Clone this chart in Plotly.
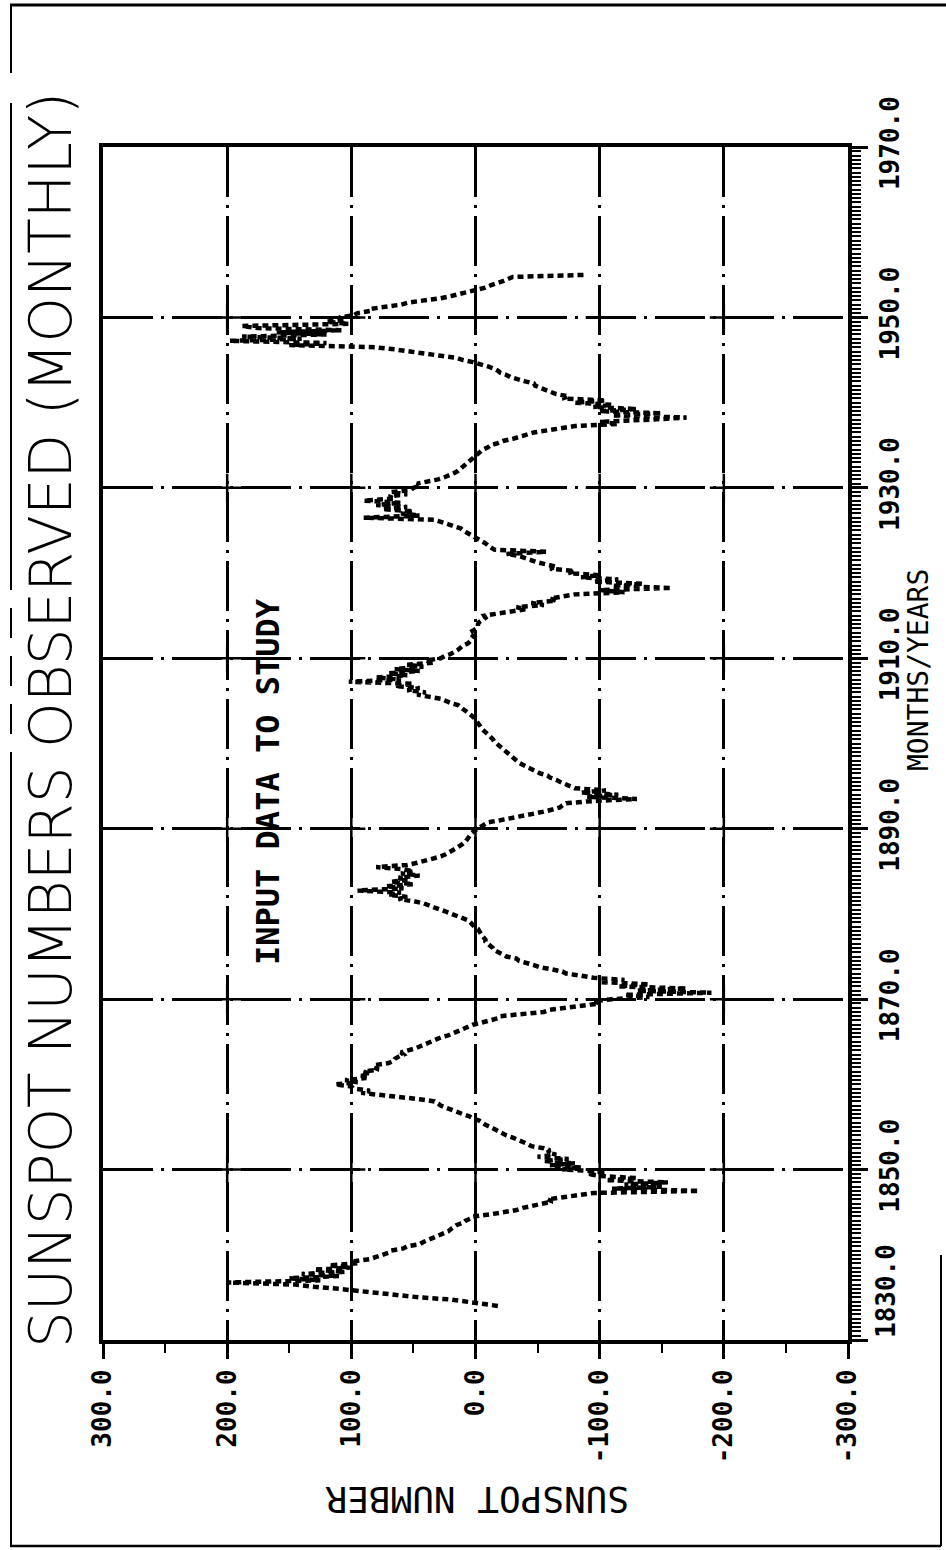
import plotly.graph_objects as go

# Monthly sunspot record sampled quarterly, signed by cycle (alternate cycles negative)
cycle_start = [1834.0, 1844.75, 1856.25, 1867.25, 1878.5, 1890.0,
               1903.0, 1912.5, 1924.25, 1934.0, 1944.75]

cycle_08 = [-18, -5, 6, 20,
            45, 60, 75, 92,
            110, 130, 145, 200,
            125, 150, 110, 140,
            105, 130, 100, 118,
            95, 98, 85, 80,
            75, 70, 68, 58,
            55, 45, 42, 38,
            32, 30, 25, 22,
            20, 18, 15, 10,
            8, 4, 2]

cycle_09 = [-12,
            -25, -33, -38, -47,
            -55, -62, -58, -72,
            -80, -95, -180, -110,
            -150, -120, -155, -105,
            -130, -100, -90, -105,
            -70, -85, -60, -80,
            -55, -75, -50, -65,
            -58, -60, -55, -45,
            -42, -38, -36, -30,
            -25, -22, -18, -15,
            -12, -8, -6, -3,
            2]

cycle_10 = [5, 10, 15,
            20, 25, 28, 30,
            33, 45, 60, 75,
            92, 85, 98, 100,
            113, 95, 105, 88,
            92, 85, 90, 78,
            82, 81, 70, 66,
            65, 62, 58, 60,
            52, 48, 44, 40,
            36, 33, 28, 22,
            18, 14, 12, 6,
            2]

cycle_11 = [-5, -12, -18,
            -20, -35, -55, -60,
            -72, -85, -100, -95,
            -110, -140, -120, -190,
            -130, -170, -115, -140,
            -100, -120, -95, -85,
            -73, -70, -58, -52,
            -47, -40, -35, -33,
            -25, -22, -18, -15,
            -14, -12, -10, -8,
            -8, -6, -5, -4,
            -3, -2]

cycle_12 = [1, 2,
            4, 6, 10, 15,
            20, 24, 28, 33,
            38, 42, 50, 62,
            55, 70, 60, 95,
            58, 72, 50, 68,
            55, 62, 45, 60,
            50, 58, 80, 55,
            47, 40, 35, 28,
            24, 20, 18, 15,
            12, 10, 8, 7,
            5, 4, 3, 1]

cycle_13 = [-2, -5, -8, -10,
            -20, -30, -40, -48,
            -55, -62, -68, -70,
            -73, -95, -130, -90,
            -115, -85, -105, -80,
            -75, -72, -68, -65,
            -60, -58, -52, -48,
            -45, -40, -38, -35,
            -33, -31, -28, -26,
            -24, -22, -20, -18,
            -16, -15, -14, -12,
            -10, -8, -6, -5,
            -4, -3, -2, -1]

cycle_14 = [1, 3, 5, 8,
            10, 12, 14, 20,
            25, 28, 38, 47,
            40, 55, 45, 65,
            50, 102, 60, 80,
            55, 70, 45, 65,
            42, 55, 33, 40,
            28, 25, 20, 16,
            14, 12, 10, 6,
            4, 2]

cycle_15 = [1, 3,
            5, 2, -1, -2,
            -2, -3, -5, -8,
            -7, -20, -33, -40,
            -33, -55, -45, -65,
            -60, -73, -80, -120,
            -100, -158, -110, -135,
            -95, -115, -85, -100,
            -75, -80, -60, -65,
            -55, -50, -45, -40,
            -35, -25, -57, -15,
            -12, -10, -8, -5,
            -2]

cycle_16 = [2, 5, 8,
            10, 12, 18, 22,
            28, 33, 90, 45,
            60, 50, 75, 55,
            80, 60, 90, 65,
            70, 55, 68, 52,
            50, 45, 47, 38,
            30, 25, 20, 17,
            14, 12, 10, 8,
            6, 5, 3, 1]

cycle_17 = [-2, -4, -6, -10,
            -12, -18, -22, -30,
            -36, -42, -47, -58,
            -68, -80, -115, -100,
            -140, -170, -110, -150,
            -100, -130, -95, -110,
            -80, -105, -70, -75,
            -65, -60, -55, -52,
            -48, -47, -40, -33,
            -28, -25, -20, -18,
            -15, -10, -5]

cycle_18 = [2,
            10, 15, 28, 40,
            47, 65, 81, 150,
            120, 198, 140, 188,
            120, 160, 108, 175,
            188, 102, 120, 105,
            110, 98, 95, 85,
            85, 70, 60, 54,
            40, 28, 20, 12,
            6, -2, -8, -12,
            -18, -22, -26, -30,
            -90]

cycles = [cycle_08, cycle_09, cycle_10, cycle_11, cycle_12, cycle_13,
          cycle_14, cycle_15, cycle_16, cycle_17, cycle_18]

spot_ticks = [300, 200, 100, 0, -100, -200, -300]
spot_labels = ["300.0", "200.0", "100.0", "0.0", "-100.0", "-200.0", "-300.0"]
spot_minor = [250, 150, 50, -50, -150, -250]
year_ticks = [1830, 1850, 1870, 1890, 1910, 1930, 1950, 1970]
year_labels = ["", "1850.0", "1870.0", "1890.0", "1910.0", "1930.0", "1950.0", "1970.0"]
grid_spots = [200, 100, 0, -100, -200]
grid_years = [1850, 1870, 1890, 1910, 1930, 1950]

years, spots = [], []
for start, vals in zip(cycle_start, cycles):
    for i, v in enumerate(vals):
        years.append(start + 0.25 * i)
        spots.append(v)

W, H = 946, 1550
L, R, T, B = 103, 98, 147, 210


def px(x):
    return (x - L) / (W - L - R)


def py(y):
    return (H - B - y) / (H - T - B)


MONO = "DejaVu Sans Mono"
fig = go.Figure()

fig.add_trace(go.Scatter(
    x=spots, y=years, mode="lines",
    line=dict(color="black", width=4.5, dash="6px,4px"),
    hoverinfo="skip",
))

# crosses where the grid lines meet
fig.add_trace(go.Scatter(
    x=[s for s in grid_spots for _ in grid_years],
    y=[yr for _ in grid_spots for yr in grid_years],
    mode="markers",
    marker=dict(symbol="cross-thin", size=20, line=dict(color="black", width=2.5)),
    hoverinfo="skip",
))

fig.update_layout(
    width=W, height=H,
    margin=dict(l=L, r=R, t=T, b=B, pad=0),
    paper_bgcolor="white", plot_bgcolor="white",
    showlegend=False,
)

fig.update_xaxes(
    range=[300, -300], tickmode="array", tickvals=spot_ticks, ticktext=spot_labels,
    tickangle=-90, ticks="outside", ticklen=15, tickwidth=2.5, tickcolor="black",
    tickfont=dict(family=MONO, size=26, color="black", weight="bold"),
    showline=True, linewidth=4, linecolor="black", mirror=True,
    showgrid=True, gridcolor="black", gridwidth=2.5, griddash="50px,8px,3px,8px",
    zeroline=False,
    minor=dict(tickvals=spot_minor, ticks="outside", ticklen=9, tickwidth=2,
               tickcolor="black", showgrid=False),
)

fig.update_yaxes(
    range=[1830, 1970], side="right", tickmode="array", tickvals=year_ticks,
    ticktext=year_labels, tickangle=-90, ticks="outside", ticklen=16, tickwidth=2.5,
    tickcolor="black",
    tickfont=dict(family=MONO, size=26, color="black", weight="bold"),
    showline=True, linewidth=3.5, linecolor="black", mirror=True,
    showgrid=True, gridcolor="black", gridwidth=2.5, griddash="50px,8px,3px,8px",
    zeroline=False,
    minor=dict(tick0=1830, dtick=0.5, ticks="outside", ticklen=9, tickwidth=1.5,
               tickcolor="black", showgrid=False),
)

annotations = [
    dict(text="SUNSPOT NUMBERS OBSERVED (MONTHLY)", xref="paper", yref="paper",
         x=px(51), y=py(720), xanchor="center", yanchor="middle",
         textangle=-90, showarrow=False,
         font=dict(family="DejaVu Sans", size=58, color="black", weight=200)),
    dict(text="MONTHS/YEARS", xref="paper", yref="paper",
         x=px(918), y=py(670), xanchor="center", yanchor="middle",
         textangle=-90, showarrow=False,
         font=dict(family=MONO, size=28, color="black")),
    dict(text="SUNSPOT NUMBER", xref="paper", yref="paper",
         x=px(477), y=py(1500), xanchor="center", yanchor="middle",
         textangle=180, showarrow=False,
         font=dict(family=MONO, size=36, color="black")),
    dict(text="INPUT DATA TO STUDY", xref="x", yref="y",
         x=167, y=1895.5, xanchor="center", yanchor="middle",
         textangle=-90, showarrow=False,
         font=dict(family=MONO, size=32, color="black", weight="bold")),
    dict(text="1830.0", xref="paper", yref="y",
         x=px(886), y=1830, xanchor="center", yanchor="bottom",
         textangle=-90, showarrow=False,
         font=dict(family=MONO, size=26, color="black", weight="bold")),
]
fig.update_layout(annotations=annotations)

# outer page frame
frame_lines = [
    (10, 5, 946, 5, 3, "solid"),
    (10, 1546, 941, 1546, 2.5, "solid"),
    (941, 1255, 941, 1546, 2, "solid"),
    (11, 5, 11, 73, 2, "solid"),
    (11, 103, 11, 560, 2, "solid"),
    (11, 560, 11, 780, 2, "30px,18px"),
    (11, 780, 11, 1546, 2, "solid"),
]
shapes = []
for x0, y0, x1, y1, w, d in frame_lines:
    shapes.append(dict(type="line", xref="paper", yref="paper",
                       x0=px(x0), y0=py(y0), x1=px(x1), y1=py(y1),
                       line=dict(color="black", width=w, dash=d)))
fig.update_layout(shapes=shapes)

fig.write_html("out.html")
